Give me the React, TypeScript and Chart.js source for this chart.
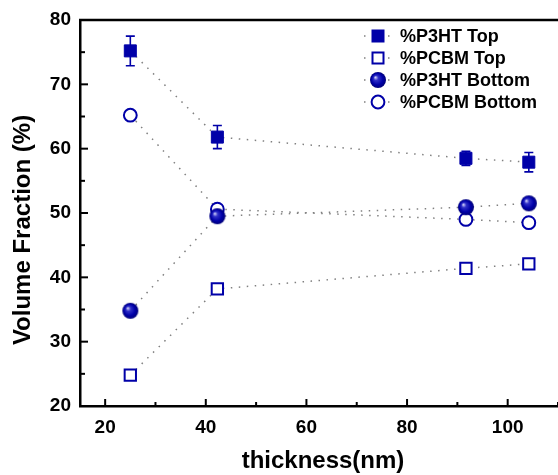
import React, { useEffect, useRef } from "react";
import { Chart, registerables } from "chart.js";

Chart.register(...registerables);

const thickness = [25, 42.3, 91.7, 104.2];
const p3htTop = [75.2, 61.8, 58.5, 57.9];
const p3htTopErr = [2.3, 1.8, 1.1, 1.5];
const pcbmTop = [24.8, 38.2, 41.4, 42.1];
const p3htBottom = [34.8, 49.5, 50.9, 51.5];
const pcbmBottom = [65.2, 50.6, 49.0, 48.5];
const seriesNames = ["%P3HT Top", "%PCBM Top", "%P3HT Bottom", "%PCBM Bottom"];
const xTickValues = [20, 40, 60, 80, 100];
const xTitle = "thickness(nm)";
const yTitle = "Volume Fraction (%)";

const NAVY = "#0000A8";
const LINE = "#808080";
const FONT = "'Liberation Sans', Arial, sans-serif";

function drawSphere(ctx: CanvasRenderingContext2D, cx: number, cy: number, r: number) {
  const g = ctx.createRadialGradient(cx - r * 0.35, cy - r * 0.35, 0, cx, cy, r);
  g.addColorStop(0, "#e8e8ff");
  g.addColorStop(0.3, "#3030c8");
  g.addColorStop(0.7, "#0000a8");
  g.addColorStop(1, "#000078");
  ctx.beginPath();
  ctx.arc(cx, cy, r, 0, Math.PI * 2);
  ctx.fillStyle = g;
  ctx.fill();
}

function makeSphere(r: number) {
  const c = document.createElement("canvas");
  const s = Math.ceil(r * 2 + 2);
  c.width = s;
  c.height = s;
  const ctx = c.getContext("2d")!;
  drawSphere(ctx, s / 2, s / 2, r);
  return c;
}

const pts = (ys: number[]) => thickness.map((x, i) => ({ x, y: ys[i] }));

export default function App() {
  const ref = useRef<HTMLCanvasElement>(null);
  useEffect(() => {
    const sphere = makeSphere(8);
    const lineOpts = {
      showLine: true,
      borderColor: LINE,
      borderWidth: 1.5,
      borderDash: [1.5, 6.5],
      fill: false,
    };
    const overlay = {
      id: "overlay",
      beforeDatasetsDraw(chart: any) {
        const ctx = chart.ctx;
        const xs = chart.scales.x;
        const ys = chart.scales.y;
        ctx.save();
        ctx.strokeStyle = NAVY;
        ctx.lineWidth = 1.6;
        thickness.forEach((x, i) => {
          const px = xs.getPixelForValue(x);
          const top = ys.getPixelForValue(p3htTop[i] + p3htTopErr[i]);
          const bot = ys.getPixelForValue(p3htTop[i] - p3htTopErr[i]);
          ctx.beginPath();
          ctx.moveTo(px, top);
          ctx.lineTo(px, bot);
          ctx.moveTo(px - 4.5, top);
          ctx.lineTo(px + 4.5, top);
          ctx.moveTo(px - 4.5, bot);
          ctx.lineTo(px + 4.5, bot);
          ctx.stroke();
        });
        ctx.restore();
      },
      afterDraw(chart: any) {
        const ctx = chart.ctx;
        const xs = chart.scales.x;
        const ys = chart.scales.y;
        const a = chart.chartArea;
        ctx.save();
        // top frame
        ctx.strokeStyle = "#000";
        ctx.lineWidth = 2.5;
        ctx.beginPath();
        ctx.moveTo(a.left - 1, a.top);
        ctx.lineTo(chart.width, a.top);
        ctx.stroke();
        // inner ticks
        ctx.lineWidth = 2;
        for (let v = 20; v <= 110; v += 10) {
          const px = xs.getPixelForValue(v);
          const len = v % 20 === 0 ? 7 : 4;
          ctx.beginPath();
          ctx.moveTo(px, a.bottom);
          ctx.lineTo(px, a.bottom - len);
          ctx.stroke();
        }
        for (let v = 25; v < 80; v += 5) {
          const py = ys.getPixelForValue(v);
          const len = v % 10 === 0 ? 8 : 5;
          ctx.beginPath();
          ctx.moveTo(a.left, py);
          ctx.lineTo(a.left + len, py);
          ctx.stroke();
        }
        // axis titles
        ctx.fillStyle = "#000";
        ctx.font = `bold 24px ${FONT}`;
        ctx.textAlign = "center";
        ctx.textBaseline = "middle";
        ctx.fillText(xTitle, 323, 461);
        ctx.save();
        ctx.translate(23, 230);
        ctx.rotate(-Math.PI / 2);
        ctx.fillText(yTitle, 0, 0);
        ctx.restore();
        // legend
        const rowY = [36, 58, 80, 102];
        const mx = 378;
        ctx.font = `bold 18px ${FONT}`;
        ctx.textAlign = "left";
        seriesNames.forEach((name, i) => {
          const y = rowY[i];
          ctx.strokeStyle = LINE;
          ctx.lineWidth = 1.5;
          ctx.setLineDash([1.5, 6.5]);
          ctx.beginPath();
          ctx.moveTo(364, y);
          ctx.lineTo(394, y);
          ctx.stroke();
          ctx.setLineDash([]);
          ctx.strokeStyle = NAVY;
          ctx.fillStyle = NAVY;
          if (i === 0) {
            ctx.fillRect(mx - 6.5, y - 6.5, 13, 13);
          } else if (i === 1) {
            ctx.fillStyle = "#fff";
            ctx.fillRect(mx - 5.5, y - 5.5, 11, 11);
            ctx.lineWidth = 2;
            ctx.strokeRect(mx - 5.5, y - 5.5, 11, 11);
          } else if (i === 2) {
            drawSphere(ctx, mx, y, 8);
          } else {
            ctx.fillStyle = "#fff";
            ctx.beginPath();
            ctx.arc(mx, y, 6.4, 0, Math.PI * 2);
            ctx.fill();
            ctx.lineWidth = 2;
            ctx.stroke();
          }
          ctx.fillStyle = "#000";
          ctx.fillText(name, 400, y + 1);
        });
        ctx.restore();
      },
    };
    const chart = new Chart(ref.current!, {
      type: "scatter",
      data: {
        datasets: [
          {
            label: seriesNames[0],
            data: pts(p3htTop),
            ...lineOpts,
            pointStyle: "rect",
            pointRadius: 8.5,
            pointBackgroundColor: NAVY,
            pointBorderColor: NAVY,
            pointBorderWidth: 1,
          },
          {
            label: seriesNames[1],
            data: pts(pcbmTop),
            ...lineOpts,
            pointStyle: "rect",
            pointRadius: 8,
            pointBackgroundColor: "#fff",
            pointBorderColor: NAVY,
            pointBorderWidth: 2,
          },
          {
            label: seriesNames[2],
            data: pts(p3htBottom),
            ...lineOpts,
            pointStyle: sphere,
            pointRadius: 8,
          },
          {
            label: seriesNames[3],
            data: pts(pcbmBottom),
            ...lineOpts,
            pointStyle: "circle",
            pointRadius: 6.4,
            pointBackgroundColor: "#fff",
            pointBorderColor: NAVY,
            pointBorderWidth: 2,
          },
        ],
      } as any,
      options: {
        responsive: false,
        animation: false,
        layout: { autoPadding: false, padding: { top: 20, right: 0, bottom: 0, left: 0 } },
        plugins: { legend: { display: false }, tooltip: { enabled: false } },
        scales: {
          x: {
            type: "linear",
            min: 15,
            max: 110,
            afterBuildTicks: (s: any) => {
              s.ticks = xTickValues.map((v) => ({ value: v }));
            },
            afterFit: (s: any) => {
              s.height = 69;
              s.paddingRight = 0;
              s.paddingLeft = 0;
            },
            ticks: {
              font: { family: FONT, weight: "bold", size: 19 },
              color: "#000",
              padding: 10,
              maxRotation: 0,
              autoSkip: false,
            },
            grid: { display: false, drawTicks: false },
            border: { display: true, color: "#000", width: 2.5 },
          },
          y: {
            type: "linear",
            min: 20,
            max: 80,
            afterFit: (s: any) => {
              s.width = 80;
              s.paddingTop = 0;
              s.paddingBottom = 0;
            },
            ticks: {
              stepSize: 10,
              font: { family: FONT, weight: "bold", size: 19 },
              color: "#000",
              padding: 9,
            },
            grid: { display: false, drawTicks: false },
            border: { display: true, color: "#000", width: 2.5 },
          },
        },
      } as any,
      plugins: [overlay],
    });
    return () => chart.destroy();
  }, []);
  return (
    <div style={{ position: "fixed", left: 0, top: 0, width: 558, height: 475, background: "#fff" }}>
      <canvas ref={ref} width={558} height={475} />
    </div>
  );
}
